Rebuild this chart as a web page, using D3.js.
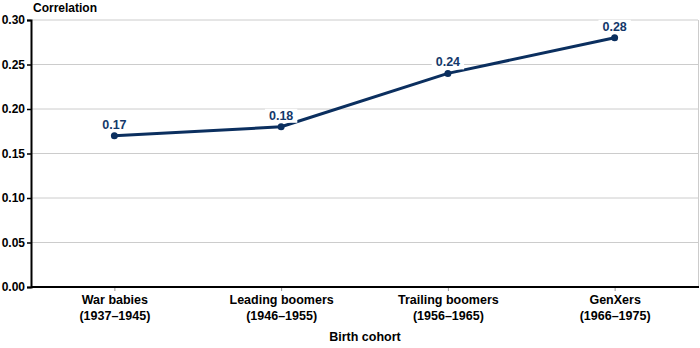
<!DOCTYPE html>
<html><head><meta charset="utf-8">
<script src="https://cdn.jsdelivr.net/npm/d3@7"></script>
<style>body{margin:0;background:#fff}svg{display:block;font-family:"Liberation Sans",Arial,sans-serif}</style>
</head><body><svg id="c" width="700" height="348"></svg>
<script>
const categories = [["War babies","(1937–1945)"],["Leading boomers","(1946–1955)"],["Trailing boomers","(1956–1965)"],["GenXers","(1966–1975)"]];
const values = [0.17, 0.18, 0.24, 0.28];
const yTicks = [0, 0.05, 0.10, 0.15, 0.20, 0.25, 0.30];

const svg = d3.select("#c");
const m = {l:31, r:698, t:20, b:287};
const x = d3.scalePoint().domain(d3.range(categories.length)).range([m.l, m.r]).padding(0.5);
const y = d3.scaleLinear().domain([0, 0.30]).range([m.b, m.t]);

// gridlines
svg.append("g").selectAll("line").data(yTicks.filter(d=>d>0)).join("line")
  .attr("x1", m.l).attr("x2", m.r).attr("y1", d=>y(d)).attr("y2", d=>y(d))
  .attr("stroke", "#cccccc").attr("stroke-width", 1);
// right border
svg.append("line").attr("x1", m.r+0.5).attr("x2", m.r+0.5).attr("y1", m.t).attr("y2", m.b)
  .attr("stroke", "#cccccc");

// y axis
const ya = svg.append("g").attr("transform", `translate(${m.l},0)`)
  .call(d3.axisLeft(y).tickValues(yTicks).tickFormat(d3.format(".2f")).tickSize(4).tickPadding(2));
ya.select(".domain").attr("stroke", "#000").attr("stroke-width", 2);
ya.selectAll(".tick line").attr("stroke", "#000").attr("stroke-width", 1.5);
ya.selectAll("text").attr("font-size", 12).attr("font-weight", "bold").attr("fill", "#000")
  .attr("font-family", '"Liberation Sans",Arial,sans-serif');

// x axis
const xa = svg.append("g").attr("transform", `translate(0,${m.b})`)
  .call(d3.axisBottom(x).tickSize(4).tickFormat(""));
xa.select(".domain").attr("stroke", "#000").attr("stroke-width", 2).attr("d", `M${m.l},0H${m.r+1}`);
xa.selectAll(".tick line").attr("stroke", "#999").attr("y1", 1);
xa.selectAll(".tick").each(function(d){
  const t = d3.select(this).append("text").attr("fill","#000").attr("font-size",12.5)
    .attr("font-weight","bold").attr("text-anchor","middle")
    .attr("font-family",'"Liberation Sans",Arial,sans-serif');
  t.append("tspan").attr("x",0).attr("y",17).text(categories[d][0]);
  t.append("tspan").attr("x",0).attr("y",33).text(categories[d][1]);
});

// titles
svg.append("text").attr("x", 33).attr("y", 12).attr("font-size", 12).attr("font-weight","bold").text("Correlation");
svg.append("text").attr("x", 365).attr("y", 341).attr("text-anchor","middle").attr("font-size", 12.5).attr("font-weight","bold").text("Birth cohort");

// line
const col = "#0b2f5f";
svg.append("path").datum(values).attr("fill","none").attr("stroke",col).attr("stroke-width",3)
  .attr("stroke-linejoin","round")
  .attr("d", d3.line().x((d,i)=>x(i)).y(d=>y(d)));
svg.append("g").selectAll("circle").data(values).join("circle")
  .attr("cx",(d,i)=>x(i)).attr("cy",d=>y(d)).attr("r",3.5).attr("fill",col);
const lg = svg.append("g").selectAll("g").data(values).join("g");
lg.each(function(d,i){
  const g = d3.select(this);
  const r = g.append("rect").attr("fill","#fff");
  const t = g.append("text").attr("x",x(i)).attr("y",y(d)-7).attr("text-anchor","middle")
    .attr("font-size",12.5).attr("font-weight","bold").attr("fill","#14386a").text(d.toFixed(2));
  const b = t.node().getBBox();
  r.attr("x",b.x-4).attr("y",b.y).attr("width",b.width+8).attr("height",b.height);
});
</script></body></html>
